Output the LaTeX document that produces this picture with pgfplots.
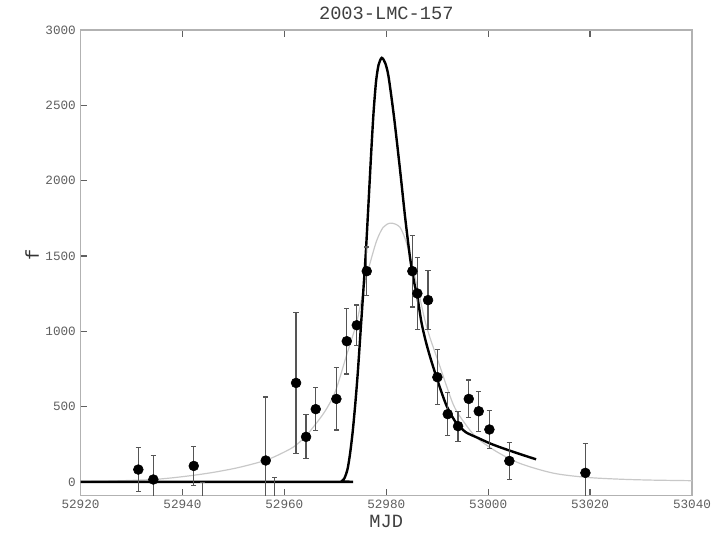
\documentclass[border=0pt]{standalone}
\usepackage{pgfplots}
\pgfplotsset{compat=1.18}
\usepackage{pgfplotstable}
\usepackage{fontspec}
\setmainfont{Liberation Mono}

\definecolor{framegray}{RGB}{178,178,178}
\definecolor{tickgray}{RGB}{95,95,95}
\definecolor{curvegray}{RGB}{200,200,200}
\definecolor{errgray}{RGB}{85,85,85}

\pgfplotstableread{
x y e
52931.34 82 144
52934.29 16 158
52942.22 106 131
52944.00 -300 295
52956.35 142 422
52958.10 -300 327
52962.30 657 467
52964.26 299 146
52966.16 483 142
52970.21 551 207
52972.25 934 218
52974.21 1040 135
52976.17 1399 160
52985.12 1399 238
52986.10 1251 241
52988.20 1207 197
52990.03 695 183
52992.07 450 142
52994.09 370 100
52996.19 551 126
52998.15 469 133
53000.24 348 127
53004.16 139 124
53019.08 60 197
}\datatable

\pgfplotstableread{
x y
52920 3
52925 5
52930 10
52934.3 16
52938 27
52942.2 44
52946 63
52950 88
52953 112
52956.4 144
52959 182
52961.8 232
52964 296
52965.7 365
52968 470
52970.0 600
52972.2 840
52974.2 1060
52975.8 1320
52976.8 1450
52978.1 1600
52979.4 1690
52980.9 1718
52982.7 1690
52984.0 1583
52985.0 1450
52986.3 1265
52988.0 1020
52990.6 760
52993.2 510
52995.5 385
52997.8 292
53001.7 200
53006.3 122
53012.8 58
53019.4 30
53025.9 18
53032 12
53040 8
}\graytable

\pgfplotstableread{
x y
52920 0
52970.5 0
52971.2 4
52971.8 25
52972.4 85
52972.9 189
52973.4 330
52973.9 510
52974.4 720
52975.0 1020
52975.5 1270
52976.0 1530
52976.5 1840
52977.0 2160
52977.5 2450
52978.0 2660
52978.5 2770
52979.12 2815
52979.8 2780
52980.45 2690
52981.53 2420
52982.71 2070
52983.69 1760
52984.7 1480
52985.5 1320
52986.1 1230
52986.9 1060
52987.7 940
52988.6 830
52989.9 690
52991.0 580
52991.9 500
52993.0 430
52993.9 385
52995.6 330
52997.8 295
53000.4 255
53003.0 222
53006.3 184
53009.4 150
}\blacktable

\begin{document}
\begin{tikzpicture}
\begin{axis}[
  width=458.6pt, height=349.1pt, scale only axis,
  xmin=52920, xmax=53040, ymin=-90, ymax=3000,
  xtick={52920,52940,...,53040}, ytick={0,500,...,3000},
  scaled x ticks=false,
  xticklabel style={/pgf/number format/fixed, /pgf/number format/precision=0},
  xtick pos=both, ytick pos=left, tick align=inside,
  major tick length=5pt,
  axis line style={framegray, line width=1.1pt},
  every tick/.style={tickgray, line width=0.9pt},
  tick label style={font=\fontsize{9.5}{11}\selectfont, text=tickgray},
  /pgf/number format/assume math mode=true,
  /pgf/number format/set thousands separator={},
  title={2003-LMC-157},
  title style={font=\fontsize{14}{16}\selectfont, text=black!75, at={(axis description cs:0.5,1)}, anchor=base, yshift=1.5pt},
  xlabel={MJD},
  xlabel style={font=\fontsize{14}{16}\selectfont, text=black!75, at={(axis description cs:0.5,0)}, anchor=base, yshift=-24pt},
  ylabel={f},
  ylabel style={font=\fontsize{14}{16}\selectfont, text=black!80, at={(axis description cs:0,0.517)}, anchor=center, rotate=0, yshift=36.4pt},
  clip=true,
]
\addplot[curvegray, line width=0.9pt, smooth, tension=0.5] table[x=x, y=y] {\graytable};
\addplot[black, line width=1.8pt, smooth, tension=0.45] table[x=x, y=y] {\blacktable};
\addplot[only marks, mark=*, mark size=3.7pt, black,
  error bars/.cd, y dir=both, y explicit,
  error bar style={errgray, line width=0.9pt},
  error mark options={errgray, rotate=90, mark size=2pt, line width=0.9pt}]
  table[x=x, y=y, y error=e] {\datatable};
\coordinate (SW) at (rel axis cs:0,0);
\coordinate (NE) at (rel axis cs:1,1);
\end{axis}
\pgfresetboundingbox
\path[use as bounding box] ([shift={(-60.4pt,-32.25pt)}]SW) rectangle ([shift={(21.75pt,22.5pt)}]NE);
\end{tikzpicture}
\end{document}
